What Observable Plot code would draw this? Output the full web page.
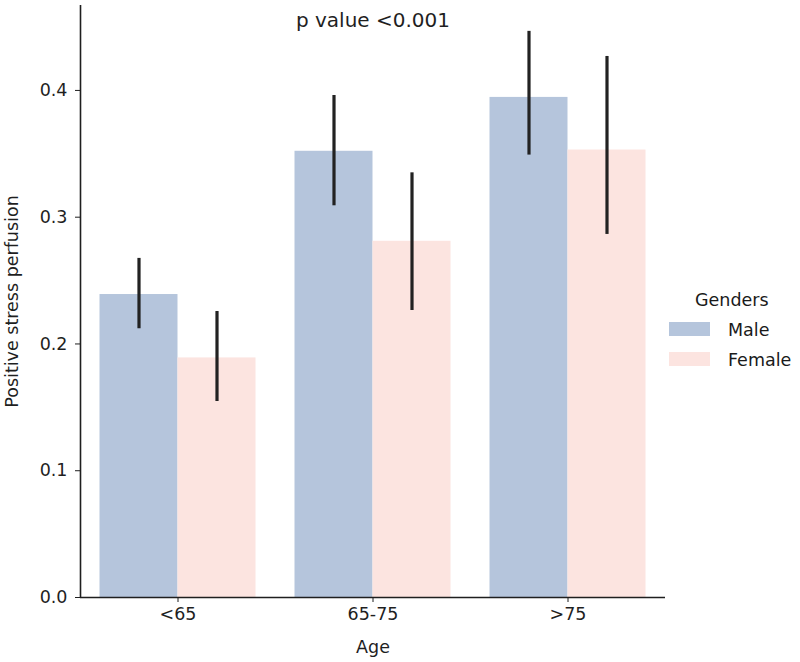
<!DOCTYPE html>
<html>
<head>
<meta charset="utf-8">
<script src="https://cdn.jsdelivr.net/npm/d3@7"></script>
<script src="https://cdn.jsdelivr.net/npm/@observablehq/plot@0.6"></script>
<style>
  html, body { margin: 0; padding: 0; background: #fff; }
  #wrap { position: relative; width: 800px; height: 662px; font-family: "DejaVu Sans", sans-serif; }
  #legend { position: absolute; left: 0; top: 0; width: 800px; height: 662px; pointer-events: none; color: #1a1a1a; font-size: 17.5px; }
  #legend .title { position: absolute; left: 695px; top: 289px; line-height: 22px; white-space: nowrap; }
  #legend .sw { position: absolute; left: 669px; width: 41px; height: 14px; }
  #legend .lab { position: absolute; left: 728px; line-height: 22px; white-space: nowrap; }
</style>
</head>
<body>
<div id="wrap"></div>
<script>
const ages = ["<65", "65-75", ">75"];
const genders = ["Male", "Female"];
const maleValues = [0.239, 0.352, 0.3945];
const femaleValues = [0.189, 0.281, 0.353];
const maleLow = [0.212, 0.309, 0.349];
const maleHigh = [0.2675, 0.396, 0.4466];
const femaleLow = [0.1546, 0.2264, 0.2864];
const femaleHigh = [0.2256, 0.335, 0.4268];
const yTicks = [0, 0.1, 0.2, 0.3, 0.4];
const colors = ["#b5c5dc", "#fce4e0"];
const titleText = "p value <0.001";
const xLabel = "Age";
const yLabel = "Positive stress perfusion";
const legendTitle = "Genders";

const rows = [];
ages.forEach((age, i) => {
  genders.forEach((g, gi) => {
    const v = gi === 0 ? maleValues[i] : femaleValues[i];
    const lo = gi === 0 ? maleLow[i] : femaleLow[i];
    const hi = gi === 0 ? maleHigh[i] : femaleHigh[i];
    const x1 = i - 0.4 + gi * 0.4;
    rows.push({age, gender: g, idx: i, x1, x2: x1 + 0.4, xc: x1 + 0.2, value: v, lo, hi});
  });
});

const ink = "#1f1f1f";
const fs = 17.5;
const chart = Plot.plot({
  width: 800,
  height: 662,
  marginLeft: 80,
  marginRight: 135,
  marginTop: 5,
  marginBottom: 65,
  style: {fontFamily: "DejaVu Sans, sans-serif", fontSize: fs + "px", color: ink, background: "#fff"},
  x: {domain: [-0.5, 2.5], label: null},
  y: {domain: [0, 0.467], label: null},
  color: {domain: genders, range: colors},
  marks: [
    Plot.rectY(rows, {x1: "x1", x2: "x2", y1: 0, y2: "value", fill: "gender"}),
    Plot.ruleX(rows, {x: "xc", y1: "lo", y2: "hi", stroke: "#222", strokeWidth: 3.2}),
    Plot.ruleY([0], {stroke: ink, strokeWidth: 1.6}),
    Plot.ruleX([-0.5], {stroke: ink, strokeWidth: 1.6}),
    Plot.axisX({ticks: [0, 1, 2], tickFormat: i => ages[i], tickSize: 5, tickPadding: 5, stroke: ink, fill: ink, fontSize: fs, label: null}),
    Plot.axisY({ticks: yTicks, tickFormat: d3.format(".1f"), tickSize: 5, tickPadding: 8, stroke: ink, fill: ink, fontSize: fs, label: null}),
    Plot.text([xLabel], {text: d => d, frameAnchor: "bottom", dy: 50, lineAnchor: "middle", fontSize: fs, fill: ink}),
    Plot.text([yLabel], {text: d => d, frameAnchor: "left", dx: -68, rotate: -90, textAnchor: "middle", lineAnchor: "middle", fontSize: fs, fill: ink}),
    Plot.text([titleText], {text: d => d, frameAnchor: "top", dy: 15, lineAnchor: "middle", fontSize: 20, fill: ink})
  ]
});
const wrap = document.getElementById("wrap");
wrap.appendChild(chart);

const legend = document.createElement("div");
legend.id = "legend";
let html = `<div class="title">${legendTitle}</div>`;
genders.forEach((g, gi) => {
  html += `<div class="sw" style="top:${322 + gi * 30}px;background:${colors[gi]}"></div><div class="lab" style="top:${319 + gi * 30}px">${g}</div>`;
});
legend.innerHTML = html;
wrap.appendChild(legend);
</script>
</body>
</html>
